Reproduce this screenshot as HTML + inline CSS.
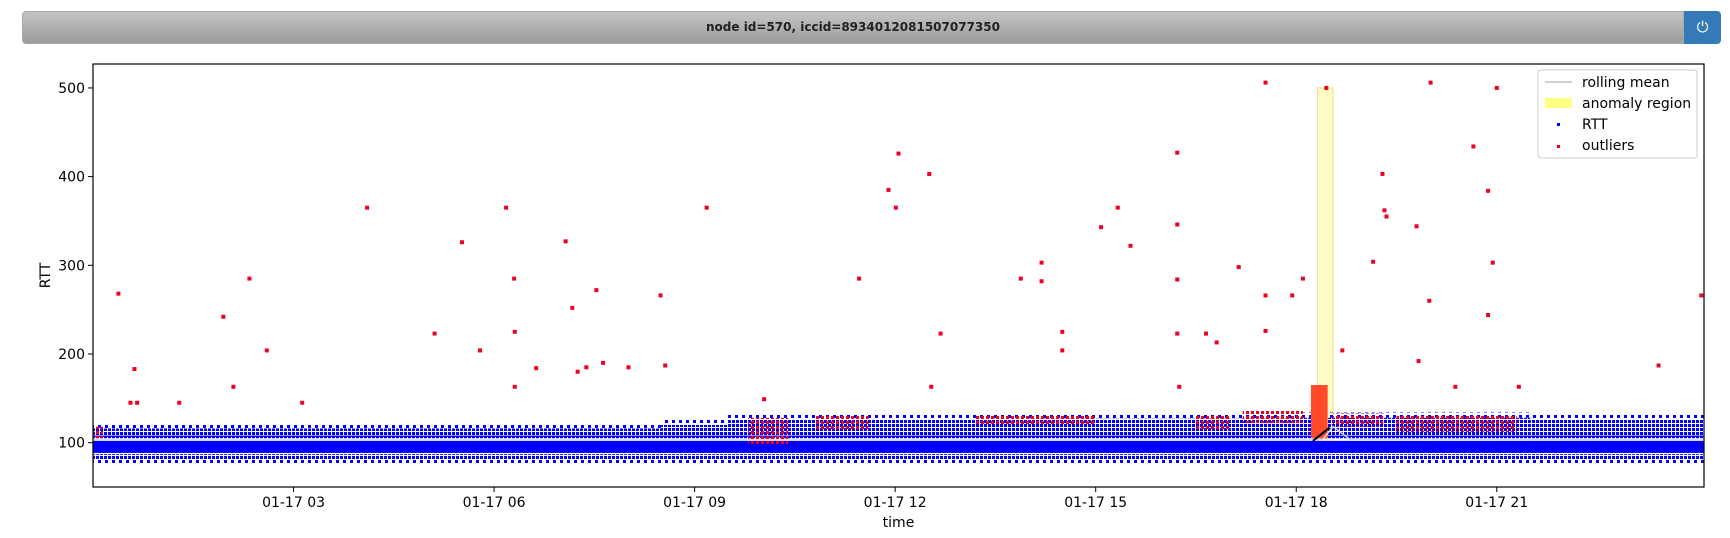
<!DOCTYPE html>
<html><head><meta charset="utf-8"><style>
body{margin:0;width:1730px;height:538px;background:#fff;overflow:hidden;font-family:"Liberation Sans","DejaVu Sans",sans-serif}
#hdr{position:absolute;left:22px;top:11px;width:1662px;height:33px;border-radius:4px 0 0 4px;background:linear-gradient(#c4c4c4,#9c9c9c);border:1px solid #aaa;box-sizing:border-box;text-align:center;font:bold 12px "DejaVu Sans","Liberation Sans",sans-serif;line-height:31px;color:#222}
#btn{position:absolute;left:1684px;top:11px;width:37px;height:33px;background:#337ab7;border-radius:0 4px 4px 0;color:#fff;text-align:center;line-height:33px;font-size:15px}
svg{position:absolute;left:0;top:0}
text{font-family:"DejaVu Sans","Liberation Sans",sans-serif;font-size:14px}
</style></head><body>
<div id="hdr">node id=570, iccid=8934012081507077350</div>
<div id="btn">&#x23FB;</div>
<svg id="c" width="1730" height="538">
<defs>
<pattern id="bd" width="4" height="4" patternUnits="userSpaceOnUse"><rect width="3" height="3" fill="#0000ff"/></pattern>
<pattern id="bs" width="7" height="5" patternUnits="userSpaceOnUse"><rect width="3" height="3" fill="#0000ff"/></pattern>
<pattern id="rd" width="5" height="5" patternUnits="userSpaceOnUse"><rect x="1" y="1" width="3" height="3" fill="#ee0022"/></pattern>
</defs>
</svg>
<script>
const xTicks=[3,6,9,12,15,18,21];
const xTickLabels=["01-17 03","01-17 06","01-17 09","01-17 12","01-17 15","01-17 18","01-17 21"];
const yTicks=[100,200,300,400,500];
const bandStart=[0,8.5,9.5,14,18,21.5];
const bandEnd=[8.5,9.5,14,18,21.5,24.1];
const bandHigh=[116,120,126,127,128,126];
const redStart=[0,9.8,10.8,13.2,16.5,17.2,18.55,19.5];
const redEnd=[0.15,10.4,11.6,15,17.0,18.1,19.3,21.3];
const redLow=[105,98,115,120,115,122,118,112];
const redHigh=[118,128,130,131,130,136,133,132];
const outT=[0.38,0.62,0.56,0.66,1.29,1.95,2.1,2.34,2.6,3.13,4.1,5.11,5.52,5.79,6.18,6.3,6.31,6.31,6.63,7.07,7.17,7.53,7.25,7.38,7.63,8.01,8.49,8.56,9.18,10.04,11.46,11.9,12.01,12.05,12.51,12.54,12.68,13.88,14.19,14.19,14.5,14.5,15.08,15.33,15.52,16.22,16.22,16.22,16.22,16.25,16.65,16.81,17.14,17.54,17.54,17.54,17.94,18.1,18.45,18.69,19.29,19.32,19.35,19.15,19.8,20.01,19.99,19.83,20.65,20.87,20.94,21.0,20.87,23.42,24.06,21.33,20.38];
const outV=[268,183,145,145,145,242,163,285,204,145,365,223,326,204,365,285,225,163,184,327,252,272,180,185,190,185,266,187,365,149,285,385,365,426,403,163,223,285,282,303,225,204,343,365,322,427,346,284,223,163,223,213,298,506,266,226,266,285,500,204,403,362,355,304,344,506,260,192,434,384,303,500,244,187,266,163,163];
const anomStart=18.32, anomEnd=18.55, anomLow=100, anomHigh=500;
const spikeLow=105, spikeHigh=165;
const meanT=[0,18.2,18.4,18.55,18.8,24.1];
const meanV=[103,103,104,118,104,103];

const NS="http://www.w3.org/2000/svg",svg=document.getElementById('c');
const L=93,R=1704,T=64,B=487;
const X=h=>L+h*(R-L)/24.1;
const Y=v=>B-(v-50)*(B-T)/477;
function el(t,a,p){const e=document.createElementNS(NS,t);for(const k in a)e.setAttribute(k,a[k]);(p||svg).appendChild(e);return e;}
function rect(x0,x1,v0,v1,fill,op){return el('rect',{x:X(x0),y:Y(v1),width:X(x1)-X(x0),height:Y(v0)-Y(v1),fill:fill,opacity:op||1});}

let a=rect(anomStart,anomEnd,anomLow,anomHigh,'#fffbc8');a.setAttribute('stroke','#e8e08a');


rect(0,24.1,75,81,'url(#bs)');
let b1=rect(0,24.1,81,87,'url(#bd)');


let b2=rect(0,24.1,88.5,102,'#0000ff');


rect(0,24.1,86,89,'url(#bs)');
for(let i=0;i<bandStart.length;i++){
 let r=rect(bandStart[i],bandEnd[i],105,bandHigh[i],'url(#bd)');
 
 
 rect(bandStart[i],bandEnd[i],bandHigh[i],bandHigh[i]+6,'url(#bs)');
}
rect(0,24.1,106.5,108,'#0000ff');
for(let i=0;i<redStart.length;i++){
 let r=rect(redStart[i],redEnd[i],redLow[i],redHigh[i],'url(#rd)');
 
 
}
let sp=rect(anomStart-0.1,anomEnd-0.08,spikeLow,spikeHigh,'#ff4a2a');


let pts=meanT.map((t,i)=>X(t)+','+Y(meanV[i])).join(' ');
let ml=el('polyline',{points:pts,fill:'none',stroke:'#d8d8d8','stroke-width':1.5});


el('line',{x1:X(18.25),y1:Y(102),x2:X(18.5),y2:Y(117),stroke:'#000','stroke-width':2});
for(let i=0;i<outT.length;i++){
 let c=el('rect',{x:X(outT[i])-2,y:Y(outV[i])-2,width:4,height:4,fill:'#ee0022'});
 
 
}
el('rect',{x:L,y:T,width:R-L,height:B-T,fill:'none',stroke:'#000','stroke-width':1.2});
yTicks.forEach(v=>{el('line',{x1:L-5,x2:L,y1:Y(v),y2:Y(v),stroke:'#000'});
 let t=el('text',{x:L-8,y:Y(v)+5,'text-anchor':'end'});t.textContent=v;
 
 });
xTicks.forEach((h,i)=>{el('line',{x1:X(h),x2:X(h),y1:B,y2:B+5,stroke:'#000'});
 let t=el('text',{x:X(h),y:B+20,'text-anchor':'middle'});t.textContent=xTickLabels[i];
 
 });
let xt=el('text',{x:(L+R)/2,y:527,'text-anchor':'middle'});xt.textContent='time';


let yt=el('text',{x:50,y:(T+B)/2,'text-anchor':'middle',transform:'rotate(-90 50 '+(T+B)/2+')'});yt.textContent='RTT';


const g=el('g',{});


el('rect',{x:1538,y:70,width:159,height:88,rx:3,fill:'#fff',stroke:'#ccc'},g);
el('line',{x1:1545,x2:1572,y1:82,y2:82,stroke:'#d0d0d0','stroke-width':2},g);
el('rect',{x:1545,y:98,width:27,height:10,fill:'#ffff80'},g);
el('rect',{x:1557,y:123,width:3,height:3,fill:'#0000ff'},g);
el('rect',{x:1557,y:145,width:3,height:3,fill:'#ee0022'},g);
[['rolling mean',87],['anomaly region',108],['RTT',129],['outliers',150]].forEach(d=>{
 let t=el('text',{x:1582,y:d[1]},g);t.textContent=d[0];
 
 });
</script></body></html>
